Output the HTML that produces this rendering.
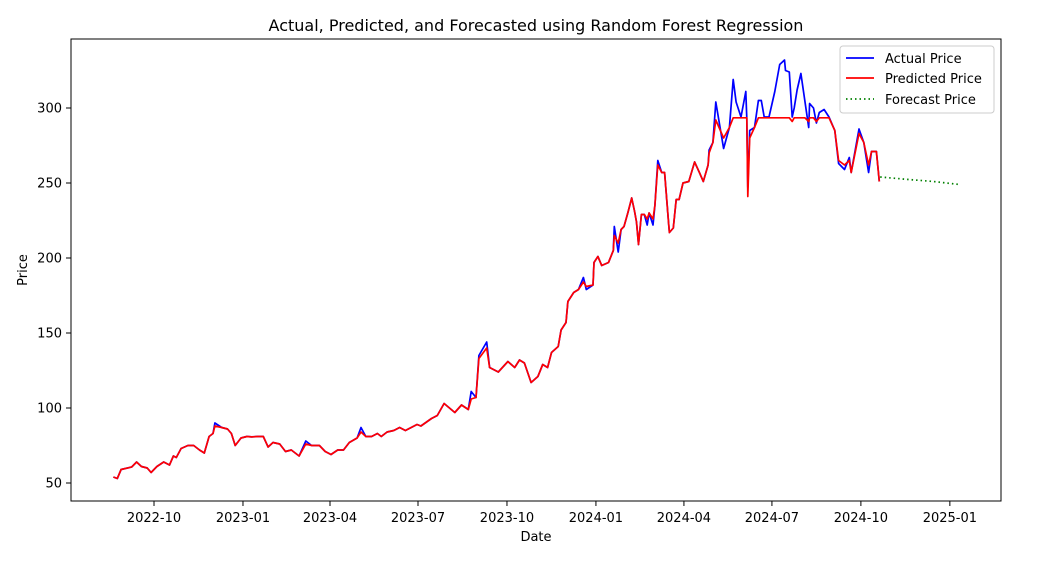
<!DOCTYPE html>
<html><head><meta charset="utf-8"><style>
body{margin:0;background:#fff;font-family:"Liberation Sans","DejaVu Sans",sans-serif}
svg text{font-family:"DejaVu Sans","Liberation Sans",sans-serif}
</style></head><body>
<svg id="chart" width="1046" height="564">
<rect width="1046" height="564" fill="#fff"/>
<text x="536" y="31" font-size="16" text-anchor="middle">Actual, Predicted, and Forecasted using Random Forest Regression</text>
<g id="plot"></g>
<rect x="71" y="39" width="930" height="462" fill="none" stroke="#000" stroke-width="1"/>
<text x="536" y="541" font-size="13" text-anchor="middle">Date</text>
<text x="27" y="270" font-size="13" text-anchor="middle" transform="rotate(-90 27 270)">Price</text>
<g>
<rect x="840" y="46" width="154" height="67" fill="#fff" fill-opacity="0.8" stroke="#ccc" rx="3"/>
<line x1="846" y1="58" x2="874" y2="58" stroke="#0000ff" stroke-width="1.7"/>
<text x="885" y="63" font-size="13">Actual Price</text>
<line x1="846" y1="78" x2="874" y2="78" stroke="#ff0000" stroke-width="1.7"/>
<text x="885" y="83" font-size="13">Predicted Price</text>
<line x1="846" y1="99" x2="874" y2="99" stroke="#008000" stroke-width="1.7" stroke-dasharray="1.5,3"/>
<text x="885" y="104" font-size="13">Forecast Price</text>
</g>
</svg>
<script>
// days since 2022-08-20
const days=[0,4,8,19,24,29,35,39,45,52,58,62,65,70,77,83,89,94,99,103,105,112,118,122,126,132,138,143,149,155,160,165,172,178,184,192,199,205,213,219,225,232,238,244,252,256,261,267,273,277,283,290,296,302,308,314,318,329,335,342,353,360,367,370,375,378,386,389,398,408,415,420,425,432,439,444,449,453,460,463,468,470,476,481,486,489,496,497,501,505,512,517,518,522,525,528,532,536,539,541,543,546,549,552,554,558,560,563,567,570,574,575,579,582,585,589,595,601,606,610,615,616,620,623,631,637,641,644,649,654,655,656,658,663,667,670,673,678,684,689,694,695,699,702,704,707,711,715,719,720,724,727,730,735,740,746,750,756,761,763,771,776,781,784,789,792];
const actual=[54,53,59,60.7,64,61,60,57,61,64,62,68,67,73,75,75,72,70,81,83,90,87,86,83,75,80,81,80.7,81,81,74,77,76,71,72,68,78,75,75,71,69,72,72,77,80,87,81,81,83,81,84,85,87,85,87,89,88,93,95,103,97,102,99,111,107,135,144,127,124,131,127,132,130,117,121,129,127,137,141,152,157,171,177,179,187,179,182,197,201,195,197,205,221,204,219,221,230,240,231,224,209,229,229,222,230,222,235,265,257,257,224,217,220,239,239,250,251,264,257,251,262,272,277,304,273,287,319,304,294,311,293,247,285,287,305,305,294,294,311,329,332,325,324,294,300,312,323,305,287,303,300,290,297,299,294,285,263,259,267,257,286,277,257,271,271,251];
const predicted=[54,53,59,60.7,64,61,60,57,61,64,62,68,67,73,75,75,72,70,81,83,88,87,86,83,75,80,81,80.7,81,81,74,77,76,71,72,68,76,75,75,71,69,72,72,77,80,84,81,81,83,81,84,85,87,85,87,89,88,93,95,103,97,102,99,106,107,133,140,127,124,131,127,132,130,117,121,129,127,137,141,152,157,171,177,179,184,181,182,197,201,195,197,205,215,210,219,221,230,240,231,224,209,229,229,226,230,226,235,262,257,257,224,217,220,239,239,250,251,264,257,251,262,270,277,292,280,287,293.5,293.5,293.5,293.5,293.5,241,280,287,293.5,293.5,293.5,293.5,293.5,293.5,293.5,293.5,293.5,291,293.5,293.5,293.5,293.5,291,293.5,293.5,291,293.5,293.5,293.5,285,265,262,265,257,283,277,262,271,271,251];
const fcDays=[793,820,848,875];
const forecast=[254,252.5,251,249];
const yTicks=[50,100,150,200,250,300];
const xTickLabels=["2022-10","2023-01","2023-04","2023-07","2023-10","2024-01","2024-04","2024-07","2024-10","2025-01"];
const xTickDays=[42,134,224,315,407,499,590,681,773,865];

const NS="http://www.w3.org/2000/svg";
const X=d=>113.4+d*0.967;
const Y=v=>483-(v-50)*1.5;
const g=document.getElementById('plot');
function mk(t,a){const e=document.createElementNS(NS,t);for(const k in a)e.setAttribute(k,a[k]);g.appendChild(e);return e;}
yTicks.forEach(v=>{
  const t=mk('line',{x1:66,x2:71,y1:Y(v),y2:Y(v),stroke:'#000'});
  
  
  const l=mk('text',{x:62,y:Y(v)+4.5,'font-size':13,'text-anchor':'end'});
  l.textContent=v;
  
  
});
xTickDays.forEach((d,i)=>{
  const t=mk('line',{x1:X(d),x2:X(d),y1:501,y2:506,stroke:'#000'});
  
  
  const l=mk('text',{x:X(d),y:522,'font-size':13,'text-anchor':'middle'});
  l.textContent=xTickLabels[i];
  
  
});
const pts=(ds,vs)=>ds.map((d,i)=>X(d).toFixed(1)+','+Y(vs[i]).toFixed(1)).join(' ');
const a=mk('polyline',{points:pts(days,actual),fill:'none',stroke:'#0000ff','stroke-width':1.7,'stroke-linejoin':'round'});


const p=mk('polyline',{points:pts(days,predicted),fill:'none',stroke:'#ff0000','stroke-width':1.7,'stroke-linejoin':'round'});


const f=mk('polyline',{points:pts(fcDays,forecast),fill:'none',stroke:'#008000','stroke-width':1.7,'stroke-dasharray':'1.5,3'});


</script>
</body></html>
